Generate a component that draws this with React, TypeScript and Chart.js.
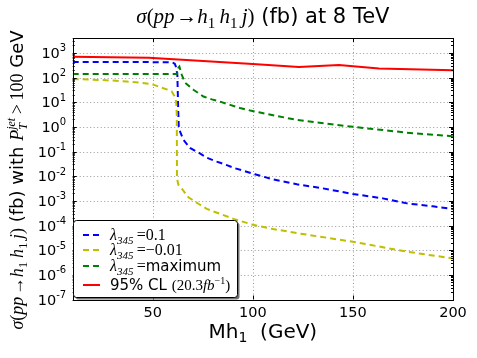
import React, { useEffect, useRef } from 'react';
import { Chart, registerables } from 'chart.js';
Chart.register(...registerables);

// ---------- data ----------
const massBlue = [10, 40, 55, 58, 60, 61, 61.7, 62.3, 62.7, 63.0, 63.7, 65.3, 68.6, 72.8, 77, 82, 87, 91, 96, 101, 110, 122, 135, 150, 165, 177, 190, 200];
const sigmaBlue = [425, 422, 420, 415, 400, 360, 260, 120, 5, 1.0, 0.62, 0.3, 0.14, 0.091, 0.056, 0.039, 0.028, 0.021, 0.016, 0.012, 0.0074, 0.0047, 0.0032, 0.0019, 0.00126, 0.00079, 0.0006, 0.00047];

const massYellow = [10, 20, 30, 37, 45, 49.5, 54, 57, 59.5, 60.8, 61.7, 62.0, 62.1, 62.8, 64.5, 67.8, 72.8, 77, 90.3, 100, 110, 125, 150, 177, 200];
const sigmaYellow = [87, 82, 75, 69, 60, 54, 40, 33, 27, 18, 10.5, 3, 0.008, 0.0045, 0.0031, 0.0014, 0.00076, 0.00047, 0.000186, 0.000107, 0.000072, 0.000045, 0.000022, 0.0000087, 0.0000046];

const massGreen = [10, 30, 50, 61, 62.2, 62.8, 63.3, 64.5, 66, 70.3, 75.3, 79.5, 83.6, 88.6, 93.6, 98.7, 103.6, 122, 150, 177, 200];
const sigmaGreen = [138, 138, 138, 138, 140, 250, 280, 129, 63, 32, 17, 13, 10.5, 7.8, 5.8, 4.6, 3.8, 1.9, 1.0, 0.58, 0.42];

const massLimit = [10, 48, 100, 123, 143, 163, 200];
const sigmaLimit = [690, 640, 350, 265, 320, 230, 195];

const xTicks = [50, 100, 150, 200];
const yExponents = [3, 2, 1, 0, -1, -2, -3, -4, -5, -6, -7];

// ---------- styles ----------
const SANS = '"DejaVu Sans"';
const SERIF = '"Liberation Serif"';
const BLUE = '#0000ff';
const YELLOW = '#bfbf00';
const GREEN = '#008000';
const RED = '#ff0000';

type Seg = { t: string; font: string; dy?: number; adv?: boolean };

function segsWidth(ctx: CanvasRenderingContext2D, segs: Seg[]) {
  let w = 0;
  for (const s of segs) {
    ctx.font = s.font;
    if (s.adv !== false) w += ctx.measureText(s.t).width;
  }
  return w;
}

function drawRich(ctx: CanvasRenderingContext2D, segs: Seg[], x: number, y: number, align: 'left' | 'center' | 'right') {
  const w = segsWidth(ctx, segs);
  let cx = align === 'center' ? x - w / 2 : align === 'right' ? x - w : x;
  ctx.textAlign = 'left';
  ctx.textBaseline = 'alphabetic';
  for (const s of segs) {
    ctx.font = s.font;
    ctx.fillText(s.t, cx, y + (s.dy || 0));
    if (s.adv !== false) cx += ctx.measureText(s.t).width;
  }
}

function sigmaMath(size: number): Seg[] {
  const it = `italic ${size}px ${SERIF}`;
  const rm = `${size}px ${SERIF}`;
  const sub = `${Math.round(size * 0.7)}px ${SERIF}`;
  const d = size * 0.22;
  return [
    { t: 'σ', font: it },
    { t: '(', font: rm },
    { t: 'pp', font: it },
    { t: '\u200a→', font: rm },
    { t: 'h', font: it },
    { t: '1', font: sub, dy: d },
    { t: '\u2009', font: rm },
    { t: 'h', font: it },
    { t: '1', font: sub, dy: d },
    { t: '\u2009', font: rm },
    { t: 'j', font: it },
    { t: ')', font: rm },
  ];
}

function lambdaSegs(size: number, rest: Seg[]): Seg[] {
  return [
    { t: 'λ', font: `italic ${size}px ${SERIF}` },
    { t: '345', font: `italic ${Math.round(size * 0.7)}px ${SERIF}`, dy: 4 },
    { t: '\u2009=', font: `${size}px ${SERIF}` },
    ...rest,
  ];
}

const decorPlugin = {
  id: 'decor',
  beforeDatasetsDraw(chart: any) {
    const { ctx, chartArea: a, scales } = chart;
    const xs = scales.x, ys = scales.y;
    ctx.save();
    ctx.strokeStyle = 'rgba(0,0,0,0.4)';
    ctx.lineWidth = 1;
    ctx.setLineDash([1, 2.5]);
    for (const v of xTicks) {
      const px = Math.round(xs.getPixelForValue(v)) + 0.5;
      ctx.beginPath(); ctx.moveTo(px, a.top); ctx.lineTo(px, a.bottom); ctx.stroke();
    }
    for (const e of yExponents) {
      const py = Math.round(ys.getPixelForValue(Math.pow(10, e))) + 0.5;
      ctx.beginPath(); ctx.moveTo(a.left, py); ctx.lineTo(a.right, py); ctx.stroke();
    }
    ctx.restore();
  },
  afterDatasetsDraw(chart: any) {
    const { ctx, chartArea: a, scales } = chart;
    const xs = scales.x, ys = scales.y;
    ctx.save();
    // frame
    ctx.strokeStyle = '#000';
    ctx.lineWidth = 1;
    ctx.setLineDash([]);
    ctx.strokeRect(Math.round(a.left) + 0.5, Math.round(a.top) + 0.5, Math.round(a.right - a.left), Math.round(a.bottom - a.top));
    // y ticks
    for (let e = -7; e <= 3; e++) {
      for (let k = 1; k <= 9; k++) {
        const v = k * Math.pow(10, e);
        if (v > ys.max) continue;
        const py = Math.round(ys.getPixelForValue(v)) + 0.5;
        const len = k === 1 ? 4 : 2;
        ctx.beginPath();
        ctx.moveTo(a.left, py); ctx.lineTo(a.left + len, py);
        ctx.moveTo(a.right, py); ctx.lineTo(a.right - len, py);
        ctx.stroke();
      }
    }
    // x ticks
    for (const v of xTicks) {
      const px = Math.round(xs.getPixelForValue(v)) + 0.5;
      ctx.beginPath();
      ctx.moveTo(px, a.bottom); ctx.lineTo(px, a.bottom - 4);
      ctx.moveTo(px, a.top); ctx.lineTo(px, a.top + 4);
      ctx.stroke();
    }
    ctx.fillStyle = '#000';
    // y tick labels
    for (const e of yExponents) {
      const py = ys.getPixelForValue(Math.pow(10, e));
      drawRich(ctx, [
        { t: '10', font: `14.5px ${SANS}` },
        { t: String(e), font: `10px ${SANS}`, dy: -6.6 },
      ], a.left - 6.5, py + 5.2, 'right');
    }
    // x tick labels
    for (const v of xTicks) {
      const px = xs.getPixelForValue(v);
      drawRich(ctx, [{ t: String(v), font: `14.5px ${SANS}` }], px, a.bottom + 17, 'center');
    }
    // title
    drawRich(ctx, [
      ...sigmaMath(21),
      { t: ' (fb) at 8 TeV', font: `21px ${SANS}` },
    ], (a.left + a.right) / 2, 23, 'center');
    // x label
    drawRich(ctx, [
      { t: 'Mh', font: `20px ${SANS}` },
      { t: '1', font: `14px ${SANS}`, dy: 4 },
      { t: '  (GeV)', font: `20px ${SANS}` },
    ], (a.left + a.right) / 2, 338, 'center');
    // y label
    ctx.save();
    ctx.translate(23, 180);
    ctx.rotate(-Math.PI / 2);
    drawRich(ctx, [
      ...sigmaMath(18),
      { t: ' (fb) with ', font: `18px ${SANS}` },
      { t: 'P', font: `italic 18px ${SERIF}` },
      { t: 'T', font: `italic 12px ${SERIF}`, dy: 4, adv: false },
      { t: 'jet', font: `italic 12px ${SERIF}`, dy: -8 },
      { t: '\u2009>\u2009100', font: `18px ${SERIF}` },
      { t: ' GeV', font: `18px ${SANS}` },
    ], 0, 0, 'center');
    ctx.restore();

    // legend
    const bx = 73.5, by = 220.5, bw = 164, bh = 77;
    const rr = (x: number, y: number, w: number, h: number, r: number) => {
      ctx.beginPath();
      ctx.moveTo(x + r, y);
      ctx.lineTo(x + w - r, y); ctx.arcTo(x + w, y, x + w, y + r, r);
      ctx.lineTo(x + w, y + h - r); ctx.arcTo(x + w, y + h, x + w - r, y + h, r);
      ctx.lineTo(x + r, y + h); ctx.arcTo(x, y + h, x, y + h - r, r);
      ctx.lineTo(x, y + r); ctx.arcTo(x, y, x + r, y, r);
      ctx.closePath();
    };
    ctx.fillStyle = 'rgba(80,80,80,0.8)';
    rr(bx + 2, by + 2, bw, bh, 3); ctx.fill();
    ctx.fillStyle = '#fff';
    rr(bx, by, bw, bh, 3); ctx.fill();
    ctx.strokeStyle = '#000'; ctx.lineWidth = 1;
    rr(bx, by, bw, bh, 3); ctx.stroke();

    const entries: { color: string; dash: number[]; y: number; segs: Seg[] }[] = [
      { color: BLUE, dash: [6, 4], y: 235, segs: lambdaSegs(16, [{ t: '0.1', font: `16px ${SERIF}` }]) },
      { color: YELLOW, dash: [6, 4], y: 250, segs: lambdaSegs(16, [{ t: '−0.01', font: `16px ${SERIF}` }]) },
      { color: GREEN, dash: [6, 4], y: 266, segs: lambdaSegs(16, [{ t: 'maximum', font: `15px ${SANS}` }]) },
      { color: RED, dash: [], y: 285, segs: [
        { t: '95% CL ', font: `15px ${SANS}` },
        { t: '(20.3', font: `15px ${SERIF}` },
        { t: 'fb', font: `italic 15px ${SERIF}` },
        { t: '−1', font: `10px ${SERIF}`, dy: -6 },
        { t: ')', font: `15px ${SERIF}` },
      ] },
    ];
    for (const en of entries) {
      ctx.strokeStyle = en.color;
      ctx.lineWidth = 2;
      ctx.setLineDash(en.dash);
      ctx.beginPath(); ctx.moveTo(83, en.y); ctx.lineTo(100, en.y); ctx.stroke();
      ctx.setLineDash([]);
      ctx.fillStyle = '#000';
      drawRich(ctx, en.segs, 110, en.y + 5, 'left');
    }
    ctx.restore();
  },
};

const pts = (xs: number[], ys: number[]) => xs.map((x, i) => ({ x, y: ys[i] }));

export default function App() {
  const ref = useRef<HTMLCanvasElement>(null);
  useEffect(() => {
    if (!ref.current) return;
    const chart = new Chart(ref.current, {
      type: 'line',
      data: {
        datasets: [
          { data: pts(massLimit, sigmaLimit), borderColor: RED, borderWidth: 2, pointRadius: 0, tension: 0 },
          { data: pts(massGreen, sigmaGreen), borderColor: GREEN, borderWidth: 2, borderDash: [6, 4], pointRadius: 0, tension: 0 },
          { data: pts(massYellow, sigmaYellow), borderColor: YELLOW, borderWidth: 2, borderDash: [6, 4], pointRadius: 0, tension: 0 },
          { data: pts(massBlue, sigmaBlue), borderColor: BLUE, borderWidth: 2, borderDash: [6, 4], pointRadius: 0, tension: 0 },
        ],
      } as any,
      options: {
        responsive: false,
        animation: false,
        layout: { padding: { left: 72.7, top: 38, right: 24, bottom: 58.5 } },
        scales: {
          x: { type: 'linear', min: 10, max: 200, display: false },
          y: { type: 'logarithmic', min: 1e-7, max: 4000, display: false },
        },
        plugins: { legend: { display: false }, tooltip: { enabled: false } },
      } as any,
      plugins: [decorPlugin],
    });
    return () => chart.destroy();
  }, []);
  return (
    <div style={{ position: 'fixed', left: 0, top: 0, width: 477, height: 358, background: '#fff' }}>
      <canvas ref={ref} width={477} height={358} />
    </div>
  );
}
